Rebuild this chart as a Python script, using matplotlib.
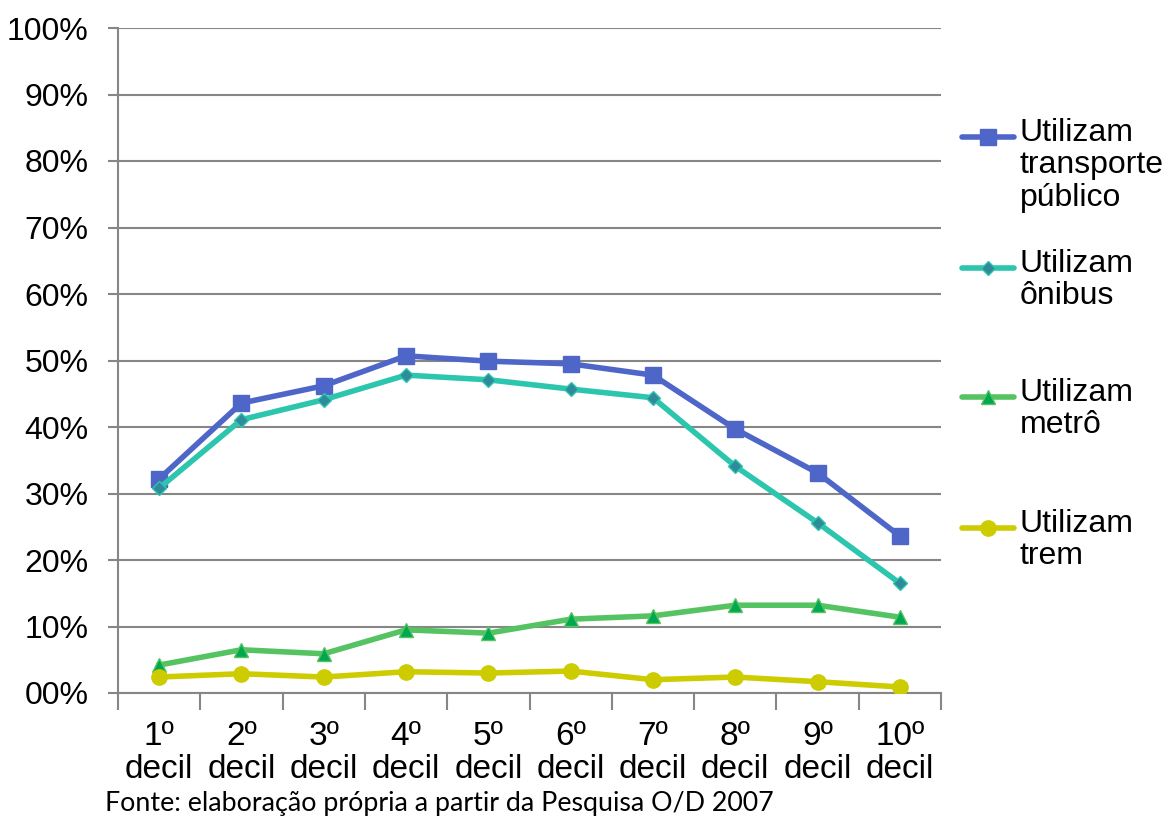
import matplotlib
matplotlib.use("Agg")
import matplotlib.pyplot as plt
from matplotlib.lines import Line2D
import numpy as np

plt.rcParams["font.family"] = ["Liberation Sans", "DejaVu Sans"]

decis = ["1º\ndecil", "2º\ndecil", "3º\ndecil", "4º\ndecil", "5º\ndecil",
         "6º\ndecil", "7º\ndecil", "8º\ndecil", "9º\ndecil", "10º\ndecil"]
transporte_publico = [32.2, 43.6, 46.2, 50.7, 49.9, 49.5, 47.8, 39.7, 33.1, 23.6]
onibus = [30.8, 41.1, 44.1, 47.8, 47.1, 45.7, 44.4, 34.1, 25.6, 16.5]
metro = [4.2, 6.5, 5.9, 9.5, 9.0, 11.1, 11.6, 13.2, 13.2, 11.4]
trem = [2.4, 2.9, 2.4, 3.2, 3.0, 3.3, 2.0, 2.4, 1.7, 0.9]
nomes = ["Utilizam\ntransporte\npúblico", "Utilizam\nônibus",
         "Utilizam\nmetrô", "Utilizam\ntrem"]
y_labels = ["00%", "10%", "20%", "30%", "40%", "50%", "60%", "70%", "80%", "90%", "100%"]

estilos = [
    dict(color="#4F66C9", marker="s", ms=11, mfc="#4F66C9", mec="#4F66C9"),
    dict(color="#2CC5AE", marker="D", ms=7, mfc="#2E8B9A", mec="#2CC5AE"),
    dict(color="#55C361", marker="^", ms=10, mfc="#00A84F", mec="#55C361"),
    dict(color="#CCCC00", marker="o", ms=11, mfc="#CCCC00", mec="#CCCC00"),
]
series = [transporte_publico, onibus, metro, trem]

fig = plt.figure(figsize=(11.67, 8.18), dpi=100)
ax = fig.add_axes([118 / 1167, 1 - 693 / 818, (941 - 118) / 1167, (693 - 28) / 818])

x = np.arange(len(decis))
for vals, st in zip(series, estilos):
    ax.plot(x, vals, lw=4, solid_joinstyle="round", zorder=3, **st)

ax.set_xlim(-0.5, len(decis) - 0.5)
ax.set_ylim(0, 100)
ax.set_yticks(np.arange(0, 101, 10))
ax.set_yticklabels(y_labels, fontsize=23)
ax.grid(axis="y", color="#868686", lw=1.5)
ax.set_axisbelow(True)

ax.set_xticks(x)
ax.set_xticklabels(decis, fontsize=24, linespacing=1.1)
ax.set_xticks(np.arange(-0.5, len(decis), 1), minor=True)
ax.tick_params(axis="x", which="major", length=0, pad=20)
ax.tick_params(axis="x", which="minor", length=12, color="#868686", width=1.5)
ax.tick_params(axis="y", length=7, color="#868686", width=1.5, pad=14)

for s in ["top", "right"]:
    ax.spines[s].set_visible(False)
for s in ["left", "bottom"]:
    ax.spines[s].set_color("#868686")
    ax.spines[s].set_linewidth(1.5)

# legenda desenhada à mão, com o marcador alinhado à primeira linha
leg_y = [137, 268, 397, 528]
for nome, st, yy in zip(nomes, estilos, leg_y):
    yf = 1 - yy / 818
    fig.add_artist(Line2D([962 / 1167, 1014 / 1167], [yf, yf], lw=4,
                          solid_capstyle="round", transform=fig.transFigure,
                          **{k: v for k, v in st.items() if k != "marker"}))
    fig.add_artist(Line2D([988 / 1167], [yf], transform=fig.transFigure, ls="none", **st))
    fig.text(1020 / 1167, yf + 19 / 818, nome, fontsize=23, va="top", ha="left", linespacing=1.1)

fig.text(105 / 1167, 1 - 803 / 818, "Fonte: elaboração própria a partir da Pesquisa O/D 2007",
         fontsize=19.3, family=["Lato", "DejaVu Sans"], va="center", ha="left")

fig.savefig("out.png", dpi=100)
